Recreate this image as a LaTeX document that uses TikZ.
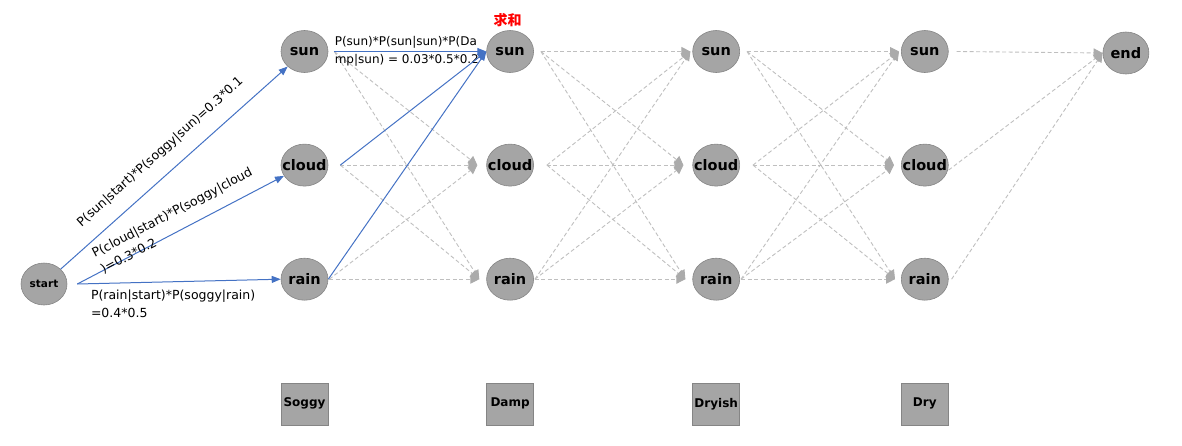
\documentclass[tikz,border=0pt]{standalone}
\usepackage{fontspec}
\setmainfont{DejaVu Sans}
\newfontfamily\cjk{Noto Sans CJK SC}
\usetikzlibrary{arrows.meta, positioning, shapes.geometric}
\definecolor{hmmblue}{HTML}{4472C4}
\definecolor{stategray}{HTML}{A5A5A5}
\definecolor{stateline}{HTML}{858585}
\definecolor{dashgray}{HTML}{BFBFBF}
\definecolor{tipgray}{HTML}{ABABAB}

\begin{document}
\begin{tikzpicture}[
        x=1pt, y=-1pt,
        state/.style={ellipse, draw=stateline, fill=stategray, line width=0.6pt, minimum width=47pt, minimum height=42pt, inner xsep=-8pt, inner ysep=0pt, font=\fontsize{14.5}{16}\selectfont\bfseries},
        obs/.style={rectangle, draw=stateline, fill=stategray, line width=0.6pt, minimum width=47pt, minimum height=42pt, inner sep=0pt, font=\fontsize{12}{14}\selectfont\bfseries},
        bluepath/.style={draw=hmmblue, line width=1pt, -{Triangle[length=9pt, width=7pt]}},
        dashpath/.style={draw=dashgray, line width=0.9pt, dash pattern=on 4pt off 2.5pt, -{Triangle[length=9pt, width=9pt, color=tipgray]}},
        prob/.style={font=\fontsize{12.5}{18}\selectfont, inner sep=0pt, align=left}
    ]
        \useasboundingbox (0,0) rectangle (1182,445);

        \node[state, minimum width=46pt, font=\fontsize{10.5}{12}\selectfont\bfseries] (start) at (44,284) {start};

        \node[state] (sun1) at (304.5,51.5) {sun};
        \node[state, below=71pt of sun1] (cloud1) {cloud};
        \node[state, below=71.5pt of cloud1] (rain1) {rain};
        \node[state, right=158pt of sun1] (sun2) {sun};
        \node[state, below=71pt of sun2] (cloud2) {cloud};
        \node[state, below=71.5pt of cloud2] (rain2) {rain};
        \node[state, right=158.5pt of sun2] (sun3) {sun};
        \node[state, below=71pt of sun3] (cloud3) {cloud};
        \node[state, below=71.5pt of cloud3] (rain3) {rain};
        \node[state, right=161pt of sun3] (sun4) {sun};
        \node[state, below=71pt of sun4] (cloud4) {cloud};
        \node[state, below=71.5pt of cloud4] (rain4) {rain};
        \node[state, minimum width=46pt, right=154pt of sun4, yshift=-1.5pt] (finish) {end};

        \node[obs, below=82pt of rain1] (soggy) {Soggy};
        \node[obs, below=82pt of rain2] (damp) {Damp};
        \node[obs, below=82pt of rain3] (dryish) {Dryish};
        \node[obs, below=82pt of rain4] (dry) {Dry};

        \node[above=3pt of sun2, xshift=-2.5pt, inner sep=0pt, text=red, font=\cjk\fontsize{14}{16}\selectfont\bfseries] (sumnote) {求和};

        % soggy -> damp, gray mesh
        \draw[dashpath] ([xshift=6pt]sun1.east) -- ([xshift=-9pt]cloud2.west);
        \draw[dashpath] ([xshift=6pt]sun1.east) -- ([xshift=-7pt]rain2.west);
        \draw[dashpath] ([xshift=12pt]cloud1.east) -- ([xshift=-9pt]cloud2.west);
        \draw[dashpath] ([xshift=12pt]cloud1.east) -- ([xshift=-7pt]rain2.west);
        \draw[dashpath] ([xshift=1pt]rain1.east) -- ([xshift=-9pt]cloud2.west);
        \draw[dashpath] ([xshift=1pt]rain1.east) -- ([xshift=-7pt]rain2.west);

        % damp -> dryish
        \draw[dashpath] ([xshift=7pt]sun2.east) -- ([xshift=-2pt]sun3.west);
        \draw[dashpath] ([xshift=7pt]sun2.east) -- ([xshift=-9pt]cloud3.west);
        \draw[dashpath] ([xshift=7pt]sun2.east) -- ([xshift=-7pt]rain3.west);
        \draw[dashpath] ([xshift=13pt]cloud2.east) -- ([xshift=-2pt]sun3.west);
        \draw[dashpath] ([xshift=13pt]cloud2.east) -- ([xshift=-9pt]cloud3.west);
        \draw[dashpath] ([xshift=13pt]cloud2.east) -- ([xshift=-7pt]rain3.west);
        \draw[dashpath] ([xshift=1pt]rain2.east) -- ([xshift=-2pt]sun3.west);
        \draw[dashpath] ([xshift=1pt]rain2.east) -- ([xshift=-9pt]cloud3.west);
        \draw[dashpath] ([xshift=1pt]rain2.east) -- ([xshift=-7pt]rain3.west);

        % dryish -> dry
        \draw[dashpath] ([xshift=7pt]sun3.east) -- ([xshift=-2pt]sun4.west);
        \draw[dashpath] ([xshift=7pt]sun3.east) -- ([xshift=-7pt]cloud4.west);
        \draw[dashpath] ([xshift=7pt]sun3.east) -- ([xshift=-6pt]rain4.west);
        \draw[dashpath] ([xshift=13pt]cloud3.east) -- ([xshift=-2pt]sun4.west);
        \draw[dashpath] ([xshift=13pt]cloud3.east) -- ([xshift=-7pt]cloud4.west);
        \draw[dashpath] ([xshift=13pt]cloud3.east) -- ([xshift=-6pt]rain4.west);
        \draw[dashpath] ([xshift=1pt]rain3.east) -- ([xshift=-2pt]sun4.west);
        \draw[dashpath] ([xshift=1pt]rain3.east) -- ([xshift=-7pt]cloud4.west);
        \draw[dashpath] ([xshift=1pt]rain3.east) -- ([xshift=-6pt]rain4.west);

        % dry -> end
        \draw[dashpath] ([xshift=8pt]sun4.east) -- (finish.west);
        \draw[dashpath] ([yshift=-5pt]cloud4.east) -- (finish.west);
        \draw[dashpath] ([xshift=3pt]rain4.east) -- (finish.west);

        % start -> soggy, and the sum into damp/sun
        \draw[bluepath] (start) -- (sun1) node[prob, midway, sloped, above=14pt] {P(sun|start)*P(soggy|sun)=0.3*0.1};
        \draw[bluepath] ([xshift=10pt]start.east) -- (cloud1) node[prob, pos=0.117, sloped, anchor=north west, yshift=25pt] {P(cloud|start)*P(soggy|cloud\\)=0.3*0.2};
        \draw[bluepath] ([xshift=10pt]start.east) -- (rain1.west) node[prob, pos=0.065, anchor=north west, yshift=-6pt] {P(rain|start)*P(soggy|rain)\\=0.4*0.5};
        \draw[bluepath] ([xshift=6pt]sun1.east) -- (sun2.west) node[prob, pos=0, anchor=north west, yshift=16pt, font=\fontsize{12}{18}\selectfont] {P(sun)*P(sun|sun)*P(Da\\mp|sun) = 0.03*0.5*0.2};
        \draw[bluepath] ([xshift=12pt]cloud1.east) -- (sun2.west);
        \draw[bluepath] (rain1.east) -- (sun2.west);
    \end{tikzpicture}
\end{document}
